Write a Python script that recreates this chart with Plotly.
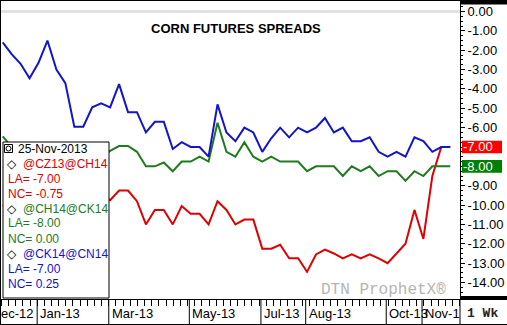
import plotly.graph_objects as go
import pandas as pd

# ---------------- data ----------------
dates = pd.date_range("2012-12-10", periods=51, freq="7D")

cz13_ch14 = [-10.0, -10.25, -9.75, -10.0, -10.5, -10.25, -9.75, -10.0, -9.5, -9.25, -9.25, -9.5,
             -9.75, -9.25, -9.25, -9.8, -11.0, -10.25, -10.25, -11.0, -10.05, -10.45, -10.45, -11.0,
             -9.8, -10.25, -11.0, -10.75, -10.75, -12.25, -12.25, -12.05, -12.75, -12.75, -13.45,
             -12.55, -12.3, -12.5, -12.75, -12.55, -12.75, -12.55, -12.75, -13.0, -12.5, -12.0,
             -10.25, -11.75, -8.5, -7.0, -7.0]
ch14_ck14 = [-6.45, -7.0, -7.0, -7.25, -7.0, -7.5, -7.25, -7.5, -7.75, -7.5, -7.25, -7.5,
             -7.2, -6.95, -6.95, -7.25, -8.0, -8.0, -7.8, -8.25, -7.75, -7.75, -7.5, -7.75,
             -5.75, -7.25, -7.5, -6.75, -7.5, -7.75, -7.5, -7.75, -7.75, -7.75, -8.25,
             -8.0, -8.0, -8.0, -8.5, -8.0, -8.25, -8.0, -8.5, -8.25, -8.25, -8.75,
             -8.25, -8.5, -8.0, -8.0, -8.0]
ck14_cn14 = [-1.6, -2.2, -2.7, -3.45, -2.65, -1.5, -3.0, -3.7, -5.95, -5.95, -4.95, -4.75,
             -4.95, -3.75, -5.2, -5.2, -6.25, -5.7, -5.7, -7.1, -6.75, -7.0, -7.0, -7.5,
             -4.8, -6.25, -6.7, -6.0, -6.25, -7.25, -6.55, -6.0, -6.5, -6.0, -6.25,
             -6.0, -5.5, -6.25, -6.0, -6.7, -6.7, -6.5, -7.25, -7.5, -7.25, -7.5,
             -6.5, -6.7, -7.25, -7.0, -7.0]

series_names = ["@CZ13@CH14", "@CH14@CK14", "@CK14@CN14"]
series_colors = ["#e00000", "#1e7b1e", "#1414c8"]
last_values = ["-7.00", "-8.00", "-7.00"]
net_changes = ["-0.75", "0.00", "0.25"]
as_of = "25-Nov-2013"

ytick_vals = [0, -1, -2, -3, -4, -5, -6, -7, -8, -9, -10, -11, -12, -13, -14]
ytick_text = ["0.00", "-1.00", "-2.00", "-3.00", "-4.00", "-5.00", "-6.00", "-7.00",
              "-8.00", "-9.00", "-10.00", "-11.00", "-12.00", "-13.00", "-14.00"]

# visible month labels (first and last are cut by the chart edges in the original)
month_labels = ["ec-12", "Jan-13", "Mar-13", "May-13", "Jul-13", "Aug-13", "Oct-13", "Nov-1"]
month_first_weeks = ["2012-12-03", "2013-01-07", "2013-03-04", "2013-05-06",
                     "2013-07-01", "2013-08-05", "2013-10-07", "2013-11-04"]

# ---------------- geometry ----------------
FW, FH = 507, 325
L, R, T, B = 1, 460, 1, 299
PW, PH = R - L, B - T
X0, X1 = -0.19, 51.09
Y0, Y1 = -14.852, 0.542

def fx(px):
    return (px - L) / PW

def fy(py):
    return (B - py) / PH

def ix(v):
    return (v - X0) / (X1 - X0)

def iy(v):
    return (v - Y0) / (Y1 - Y0)

wk = [(d - dates[0]).days / 7 for d in dates]
seps = [(pd.Timestamp(m) - dates[0]).days / 7 - 0.15 for m in month_first_weeks]

fig = go.Figure()
for vals, color in [(cz13_ch14, series_colors[0]), (ch14_ck14, series_colors[1]), (ck14_cn14, series_colors[2])]:
    fig.add_trace(go.Scatter(x=wk, y=vals, mode="lines", line=dict(color=color, width=2),
                             showlegend=False, hoverinfo="skip"))

shapes = []
annos = []
SANS = "Liberation Sans, Arial, sans-serif"
MONO = "Liberation Mono, Courier New, monospace"

# right strip thick bars and frame
shapes.append(dict(type="rect", xref="paper", yref="paper", x0=fx(460), x1=fx(507), y0=fy(0), y1=fy(4.5),
                   fillcolor="black", line=dict(width=0)))
shapes.append(dict(type="rect", xref="paper", yref="paper", x0=fx(460), x1=fx(507), y0=fy(296), y1=fy(299.5),
                   fillcolor="black", line=dict(width=0)))
shapes.append(dict(type="line", xref="paper", yref="paper", x0=fx(0), x1=fx(507), y0=fy(299.5), y1=fy(299.5),
                   line=dict(color="black", width=1)))
shapes.append(dict(type="line", xref="paper", yref="paper", x0=fx(0), x1=fx(507), y0=fy(324.5), y1=fy(324.5),
                   line=dict(color="black", width=1)))
shapes.append(dict(type="line", xref="paper", yref="paper", x0=fx(460), x1=fx(460), y0=fy(299), y1=fy(325),
                   line=dict(color="black", width=1)))
shapes.append(dict(type="line", xref="paper", yref="paper", x0=fx(0.5), x1=fx(0.5), y0=fy(0), y1=fy(325),
                   line=dict(color="black", width=1)))

# month separators and labels
for s, lab in zip(seps, month_labels):
    px = ix(s)
    shapes.append(dict(type="line", xref="paper", yref="paper", x0=px, x1=px, y0=fy(299), y1=fy(325),
                       line=dict(color="black", width=1)))
    lx = max(px + 2 / PW, fx(0))
    annos.append(dict(xref="paper", yref="paper", x=lx, y=fy(313), text=lab, showarrow=False,
                      xanchor="left", yanchor="middle", borderpad=0,
                      font=dict(family=SANS, size=13, color="black")))

# legend box
shapes.append(dict(type="rect", xref="paper", yref="paper", x0=fx(3), x1=fx(109), y0=fy(142), y1=fy(298),
                   fillcolor="white", line=dict(color="black", width=1), layer="above"))
shapes.append(dict(type="rect", xref="paper", yref="paper", x0=fx(4.5), x1=fx(12.5), y0=fy(144.5), y1=fy(152.5),
                   fillcolor="white", line=dict(color="black", width=1), layer="above"))
shapes.append(dict(type="circle", xref="paper", yref="paper", x0=fx(6), x1=fx(11), y0=fy(146), y1=fy(151),
                   fillcolor="white", line=dict(color="black", width=1), layer="above"))
annos.append(dict(xref="paper", yref="paper", x=fx(17), y=fy(148.5), text=as_of, showarrow=False,
                  xanchor="left", yanchor="middle", borderpad=0, font=dict(family=SANS, size=12, color="black")))
for k, (nm, col, la, nc) in enumerate(zip(series_names, series_colors, last_values, net_changes)):
    y_name = 163.5 + 45 * k
    annos.append(dict(xref="paper", yref="paper", x=fx(11.5), y=fy(y_name), text="<b>◇</b>", showarrow=False,
                      xanchor="center", yanchor="middle", borderpad=0,
                      font=dict(family="DejaVu Sans", size=12, color="black")))
    annos.append(dict(xref="paper", yref="paper", x=fx(21.5), y=fy(y_name), text=nm, showarrow=False,
                      xanchor="left", yanchor="middle", borderpad=0, font=dict(family=SANS, size=12, color=col)))
    annos.append(dict(xref="paper", yref="paper", x=fx(6.5), y=fy(y_name + 15), text="LA= " + la, showarrow=False,
                      xanchor="left", yanchor="middle", borderpad=0, font=dict(family=SANS, size=12, color=col)))
    annos.append(dict(xref="paper", yref="paper", x=fx(6.5), y=fy(y_name + 30), text="NC= " + nc, showarrow=False,
                      xanchor="left", yanchor="middle", borderpad=0, font=dict(family=SANS, size=12, color=col)))

# highlighted last-value labels on the right axis (green first, red on top)
for la, col in [(last_values[1], "#008000"), (last_values[0], "#ff0000")]:
    v = float(la)
    shapes.append(dict(type="rect", xref="paper", yref="paper", x0=fx(462), x1=fx(502),
                       y0=iy(v) - 6.3 / PH, y1=iy(v) + 6.3 / PH, fillcolor=col, line=dict(width=0)))
    annos.append(dict(xref="paper", yref="paper", x=fx(462.5), y=iy(v), text=la, showarrow=False,
                      xanchor="left", yanchor="middle", borderpad=0, font=dict(family=SANS, size=13, color="white")))

# regular tick labels, leaving the highlighted values to the boxes
tick_labels_shown = ["" if t in last_values else t for t in ytick_text]

# title, watermark, period
annos.append(dict(xref="paper", yref="paper", x=fx(236), y=fy(28), text="<b>CORN FUTURES SPREADS</b>",
                  showarrow=False, xanchor="center", yanchor="middle",
                  font=dict(family=SANS, size=13, color="black")))
annos.append(dict(xref="paper", yref="paper", x=fx(383), y=fy(290), text="DTN ProphetX®", showarrow=False,
                  xanchor="center", yanchor="middle", font=dict(family=MONO, size=16, color="#b4b4b4")))
annos.append(dict(xref="paper", yref="paper", x=fx(483), y=fy(313), text="<b>1 Wk</b>", showarrow=False,
                  xanchor="center", yanchor="middle", font=dict(family=MONO, size=13, color="#222222")))

fig.update_layout(
    width=FW, height=FH,
    margin=dict(l=L, r=FW - R, t=T, b=FH - B, pad=0),
    paper_bgcolor="white", plot_bgcolor="white",
    shapes=shapes, annotations=annos,
    xaxis=dict(range=[X0, X1], showticklabels=False, showgrid=False, zeroline=False,
               showline=True, mirror=True, linecolor="black", linewidth=1,
               ticks="outside", ticklen=6, tickcolor="black", tickmode="linear",
               tick0=seps[1], dtick=0.8),
    yaxis=dict(range=[Y0, Y1], side="right", showgrid=False,
               zeroline=True, zerolinecolor="#e2e2e2", zerolinewidth=3,
               showline=True, mirror=True, linecolor="black", linewidth=1,
               tickmode="array", tickvals=ytick_vals, ticktext=tick_labels_shown,
               ticks="outside", ticklen=4, tickcolor="black",
               minor=dict(tickmode="linear", tick0=0, dtick=0.25, ticks="outside", ticklen=2, tickcolor="black"),
               tickfont=dict(family=SANS, size=13, color="black")),
)

fig.write_html("out.html")
